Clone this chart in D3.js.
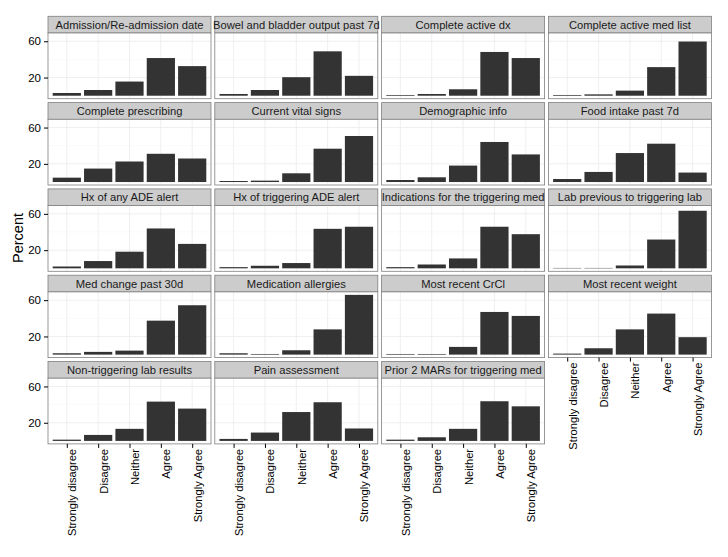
<!DOCTYPE html>
<html><head><meta charset="utf-8">
<script src="https://cdn.jsdelivr.net/npm/d3@7/dist/d3.min.js"></script>
<style>body{margin:0;background:#fff;} svg{display:block;font-family:"Liberation Sans",Arial,sans-serif;}</style>
</head><body>
<svg id="c" width="728" height="557"></svg>
<script>
const categories = ["Strongly disagree","Disagree","Neither","Agree","Strongly Agree"];
const panelTitles = [
 "Admission/Re-admission date","Bowel and bladder output past 7d","Complete active dx","Complete active med list",
 "Complete prescribing","Current vital signs","Demographic info","Food intake past 7d",
 "Hx of any ADE alert","Hx of triggering ADE alert","Indications for the triggering med","Lab previous to triggering lab",
 "Med change past 30d","Medication allergies","Most recent CrCl","Most recent weight",
 "Non-triggering lab results","Pain assessment","Prior 2 MARs for triggering med"];
const percentValues = [
 [3.0, 6.3, 15.6, 41.5, 32.6],
 [1.9, 6.3, 20.4, 48.9, 21.9],
 [0.8, 1.9, 7.1, 48.2, 41.5],
 [0.8, 1.5, 5.6, 31.5, 59.7],
 [4.8, 14.8, 22.6, 31.1, 25.9],
 [1.1, 1.5, 9.6, 36.7, 50.7],
 [2.2, 5.2, 18.1, 44.1, 30.4],
 [3.3, 11.1, 31.9, 42.2, 10.4],
 [2.0, 8.0, 18.3, 43.9, 26.9],
 [1.3, 2.8, 5.8, 43.5, 45.8],
 [1.3, 4.2, 10.9, 45.8, 37.6],
 [0.4, 0.4, 3.1, 31.7, 63.4],
 [1.5, 3.0, 4.4, 37.4, 54.4],
 [1.5, 0.7, 4.8, 27.8, 65.8],
 [0.7, 0.7, 8.5, 47.0, 42.6],
 [1.1, 7.0, 27.8, 45.2, 19.2],
 [1.4, 6.6, 13.3, 43.3, 35.6],
 [2.2, 9.2, 31.8, 42.6, 13.7],
 [1.4, 4.0, 13.3, 43.7, 38.1]];
const yTicks = [20, 60];
const yMinorGrid = [0, 40];
const yLabel = "Percent";

const svg = d3.select("#c");
const ncol = 4;
const left0 = 48, colPitch = 166.8, pw = 163;
const top0 = 16.3, rowPitch = 86.3, stripH = 16.7, ph = 65.7;

const maxV = d3.max(percentValues.flat());
const y = d3.scaleLinear().domain([-0.05*maxV, 1.05*maxV]).range([ph, 0]);
const x = d3.scaleLinear().domain([0.4, categories.length + 0.6]).range([0, pw]);
const bw = x(1.9) - x(1);
const nPanels = panelTitles.length;

panelTitles.forEach((t, i) => {
  const r = Math.floor(i / ncol), c = i % ncol;
  const gx = left0 + c * colPitch, gy = top0 + r * rowPitch;
  const g = svg.append("g").attr("transform", `translate(${gx},${gy})`);
  g.append("rect").attr("x", 0).attr("y", 0).attr("width", pw).attr("height", stripH)
    .attr("fill", "#cccccc").attr("stroke", "#7f7f7f").attr("stroke-width", 0.8);
  g.append("text").attr("x", pw/2).attr("y", stripH/2 + 4).attr("text-anchor", "middle")
    .attr("font-size", 11.2).attr("fill", "#1a1a1a").text(t);
  const p = g.append("g").attr("transform", `translate(0,${stripH})`);
  p.append("rect").attr("width", pw).attr("height", ph).attr("fill", "#fff");
  p.selectAll(".ymin").data(yMinorGrid).enter().append("line")
    .attr("x1", 0).attr("x2", pw).attr("y1", d => y(d)).attr("y2", d => y(d))
    .attr("stroke", "#f7f7f7").attr("stroke-width", 0.6);
  p.selectAll(".ymaj").data(yTicks).enter().append("line")
    .attr("x1", 0).attr("x2", pw).attr("y1", d => y(d)).attr("y2", d => y(d))
    .attr("stroke", "#ebebeb").attr("stroke-width", 0.8);
  p.selectAll(".xmaj").data(categories).enter().append("line")
    .attr("x1", (d, k) => x(k + 1)).attr("x2", (d, k) => x(k + 1)).attr("y1", 0).attr("y2", ph)
    .attr("stroke", "#ebebeb").attr("stroke-width", 0.8);
  p.selectAll(".bar").data(percentValues[i]).enter().append("rect")
    .attr("x", (d, k) => x(k + 1) - bw/2).attr("width", bw)
    .attr("y", d => y(d)).attr("height", d => y(0) - y(d))
    .attr("fill", "#333333");
  p.append("rect").attr("width", pw).attr("height", ph).attr("fill", "none")
    .attr("stroke", "#7f7f7f").attr("stroke-width", 0.8);
  if (c === 0) {
    const ya = p.append("g").call(d3.axisLeft(y).tickValues(yTicks).tickSize(4).tickPadding(3).tickFormat(d3.format("d")));
    ya.select(".domain").remove();
    ya.selectAll("line").attr("stroke", "#000");
    ya.selectAll("text").attr("font-size", 11.5).attr("fill", "#000").attr("font-family", "Liberation Sans, Arial, sans-serif");
  }
  if (i + ncol >= nPanels) {
    const xa = p.append("g").attr("transform", `translate(0,${ph})`)
      .call(d3.axisBottom(x).tickValues(d3.range(1, categories.length + 1)).tickSize(4).tickFormat(k => categories[k - 1]));
    xa.select(".domain").remove();
    xa.selectAll("line").attr("stroke", "#000");
    xa.selectAll("text").attr("font-size", 11.2).attr("fill", "#000")
      .attr("font-family", "Liberation Sans, Arial, sans-serif")
      .attr("text-anchor", "end").attr("dy", null)
      .attr("transform", "translate(0,5) rotate(-90)")
      .attr("x", 0).attr("y", 9);
  }
});

svg.append("text").attr("transform", "translate(23,238) rotate(-90)").attr("text-anchor", "middle")
  .attr("font-size", 14.5).attr("fill", "#000").text(yLabel);
</script>
</body></html>
